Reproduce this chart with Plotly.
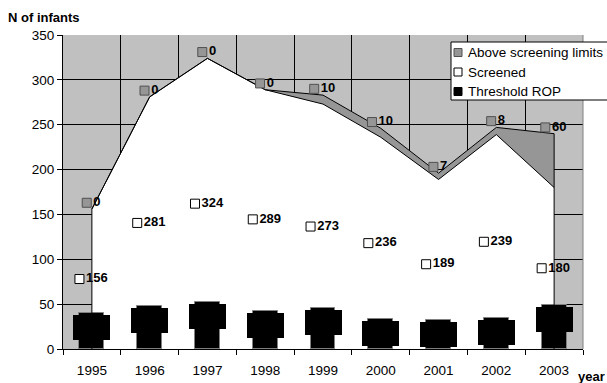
import plotly.graph_objects as go

# ---------------- data ----------------
years = [1995, 1996, 1997, 1998, 1999, 2000, 2001, 2002, 2003]
screened = [156, 281, 324, 289, 273, 236, 189, 239, 180]
above_limits = [0, 0, 0, 0, 10, 10, 7, 8, 60]
threshold_rop = [40, 48, 52, 42, 46, 33, 32, 35, 49]
legend_names = ["Above screening limits", "Screened", "Threshold ROP"]
y_tick_values = [0, 50, 100, 150, 200, 250, 300, 350]
y_title = "N of infants"
x_title = "year"

# ---------------- styles ----------------
FONT = "Liberation Sans, Arial, sans-serif"
PLOT_BG = "#C0C0C0"
ABOVE_FILL = "#969696"
W, H = 607, 383
ML, MR, MT, MB = 63, 24, 35, 34
PW, PH = W - ML - MR, H - MT - MB
Y_MAX = 350
PX_PER_YEAR = PW / len(years)

totals = [s + a for s, a in zip(screened, above_limits)]


def key_x(year, text):
    """x position of the legend-key marker so that key + label is centred on the category."""
    width = 9 + 3 + 7.3 * len(text)
    return year + (-width / 2 + 4.5) / PX_PER_YEAR


def px_x(p):
    return (p - ML) / PW


def px_y(p):
    return (MT + PH - p) / PH


fig = go.Figure()

# stacked areas
fig.add_trace(go.Scatter(x=years, y=screened, mode="lines", fill="tozeroy",
                         fillcolor="white", line=dict(color="black", width=1),
                         showlegend=False, hoverinfo="skip"))
fig.add_trace(go.Scatter(x=years, y=totals, mode="lines", fill="tonexty",
                         fillcolor=ABOVE_FILL, line=dict(color="black", width=1),
                         showlegend=False, hoverinfo="skip"))

# threshold bars (on overlay axis so they are drawn above the areas)
fig.add_trace(go.Bar(x=years, y=threshold_rop, width=0.43, yaxis="y2",
                     marker=dict(color="black", line=dict(color="#808080", width=1)),
                     showlegend=False, hoverinfo="skip"))

# data labels with legend keys
scr_text = [str(v) for v in screened]
fig.add_trace(go.Scatter(
    x=[key_x(y, t) for y, t in zip(years, scr_text)],
    y=[v / 2 for v in screened], yaxis="y2",
    mode="markers+text", text=scr_text, textposition="middle right",
    textfont=dict(family=FONT, size=13, color="black", weight="bold"),
    marker=dict(symbol="square", size=9, color="white", line=dict(color="black", width=1)),
    showlegend=False, cliponaxis=False, hoverinfo="skip"))

ab_text = [str(v) for v in above_limits]
fig.add_trace(go.Scatter(
    x=[key_x(y, t) for y, t in zip(years, ab_text)],
    y=[t + 7 for t in totals], yaxis="y2",
    mode="markers+text", text=ab_text, textposition="middle right",
    textfont=dict(family=FONT, size=13, color="black", weight="bold"),
    marker=dict(symbol="square", size=9, color=ABOVE_FILL, line=dict(color="#505050", width=1)),
    showlegend=False, cliponaxis=False, hoverinfo="skip"))

shapes = []
annotations = []

# vertical end edges of the area
for idx in (0, len(years) - 1):
    shapes.append(dict(type="line", xref="x", yref="y", x0=years[idx], x1=years[idx],
                       y0=0, y1=totals[idx], line=dict(color="black", width=1)))

# right border of the plot area
shapes.append(dict(type="line", xref="paper", yref="paper", x0=1, x1=1, y0=0, y1=1,
                   line=dict(color="#808080", width=1)))

# black data-label boxes of the threshold series
for y, v in zip(years, threshold_rop):
    annotations.append(dict(x=y, y=v, xref="x", yref="y", text=str(v), showarrow=False,
                            yanchor="top", yshift=-2, width=37, height=25,
                            bgcolor="black", font=dict(color="black", size=11, family=FONT),
                            borderpad=0, borderwidth=0))

# manual legend
shapes.append(dict(type="rect", xref="paper", yref="paper",
                   x0=px_x(451), x1=px_x(625), y0=px_y(100), y1=px_y(42),
                   fillcolor="white", line=dict(color="black", width=1)))
legend_fill = [ABOVE_FILL, "white", "black"]
legend_line = ["#505050", "black", "black"]
legend_cy = [52.5, 72, 91.5]
for name, fc, lc, cy in zip(legend_names, legend_fill, legend_line, legend_cy):
    shapes.append(dict(type="rect", xref="paper", yref="paper",
                       x0=px_x(454), x1=px_x(462), y0=px_y(cy + 4), y1=px_y(cy - 4),
                       fillcolor=fc, line=dict(color=lc, width=1)))
    annotations.append(dict(x=px_x(466), y=px_y(cy), xref="paper", yref="paper",
                            text=name, showarrow=False, xanchor="left", yanchor="middle",
                            font=dict(family=FONT, size=13.5, color="black")))

# axis titles
annotations.append(dict(x=px_x(6), y=px_y(17), xref="paper", yref="paper", text=y_title,
                        showarrow=False, xanchor="left", yanchor="middle",
                        font=dict(family=FONT, size=13, color="black", weight="bold")))
annotations.append(dict(x=px_x(607), y=px_y(376), xref="paper", yref="paper", text=x_title,
                        showarrow=False, xanchor="right", yanchor="middle",
                        font=dict(family=FONT, size=13, color="black", weight="bold")))

fig.update_layout(
    width=W, height=H,
    margin=dict(l=ML, r=MR, t=MT, b=MB, autoexpand=False),
    paper_bgcolor="white", plot_bgcolor=PLOT_BG,
    font=dict(family=FONT, size=13.5, color="black"),
    showlegend=False, bargap=0,
    xaxis=dict(range=[years[0] - 0.5, years[-1] + 0.5], tickvals=years,
               ticktext=[str(y) for y in years], ticks="outside", ticklen=9,
               tickcolor="rgba(0,0,0,0)", showgrid=False, zeroline=False,
               showline=True, linecolor="black", linewidth=1, automargin=False,
               minor=dict(tickvals=[y - 0.5 for y in years] + [years[-1] + 0.5],
                          ticks="outside", ticklen=5, tickcolor="black",
                          showgrid=True, gridcolor="black", gridwidth=1)),
    yaxis=dict(range=[0, Y_MAX], tickvals=y_tick_values, ticks="outside", ticklen=5,
               tickcolor="black", showgrid=True, gridcolor="black", gridwidth=1,
               zeroline=False, showline=True, linecolor="black", linewidth=1,
               automargin=False),
    yaxis2=dict(range=[0, Y_MAX], overlaying="y", visible=False),
    shapes=shapes, annotations=annotations,
)

fig.write_html("out.html", config={"displayModeBar": False},
               post_script="document.body.style.margin='0';document.body.style.overflow='hidden';")
